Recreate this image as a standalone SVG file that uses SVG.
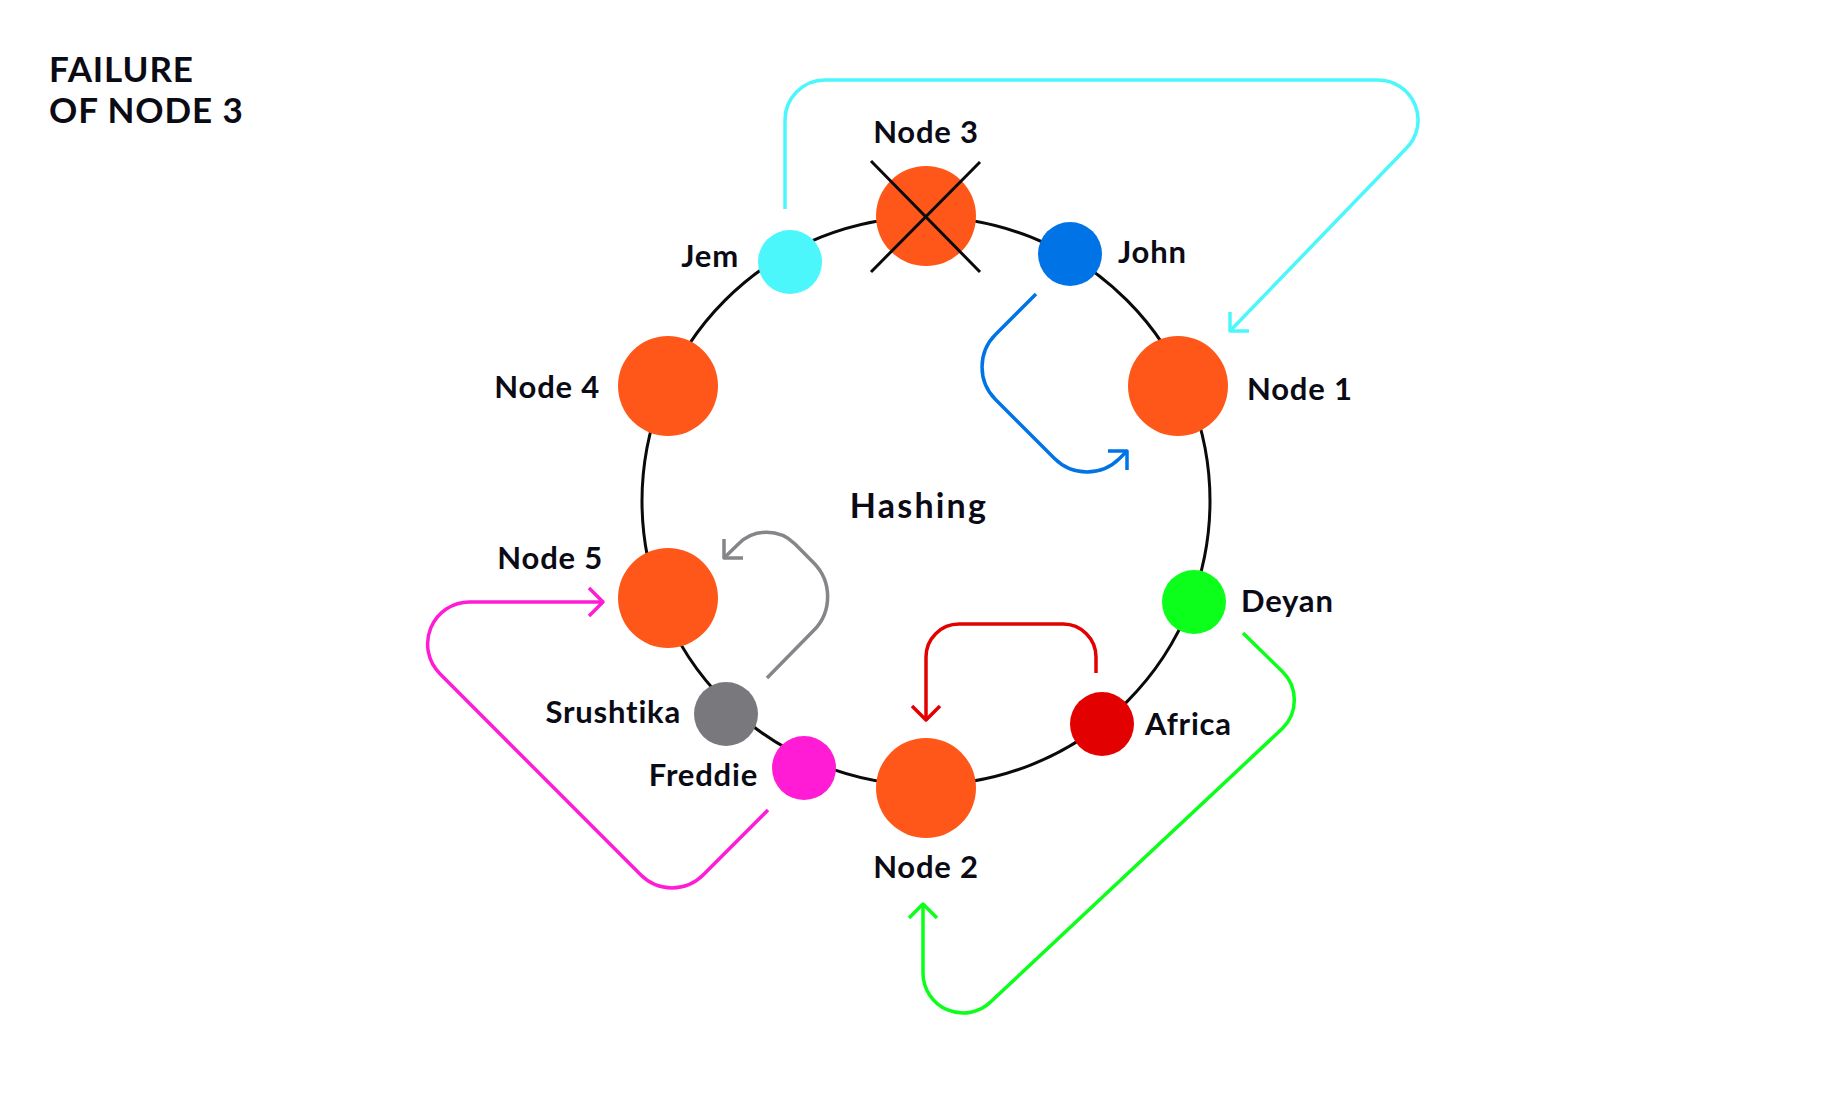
<svg xmlns="http://www.w3.org/2000/svg" width="1840" height="1100" viewBox="0 0 1840 1100">
<style>
.lbl{font-family:Lato,"Liberation Sans",sans-serif;font-weight:700;font-size:31px;letter-spacing:0.8px;fill:#0b0b16}
.ttl{font-family:Lato,"Liberation Sans",sans-serif;font-weight:700;font-size:35px;letter-spacing:0.9px;fill:#0b0b16}
.big{fill:#ff5719}
.conn{fill:none;stroke-width:3.5;stroke-linecap:butt;stroke-linejoin:round}
</style>
<rect width="1840" height="1100" fill="#ffffff"/>
<text class="ttl" x="49" y="82">FAILURE</text>
<text class="ttl" x="49" y="123">OF NODE 3</text>
<circle cx="926" cy="501" r="284" fill="none" stroke="#0a0a0a" stroke-width="3"/>
<text class="lbl" x="919" y="518" text-anchor="middle" style="font-size:34px;letter-spacing:2.2px">Hashing</text>
<g id="connectors">
<path class="conn" stroke="#4cf7fc" d="M785,209 V120 A40,40 0 0 1 825,80 H1378 A40,40 0 0 1 1406.3,148.3 L1230,331"/>
<path class="conn" stroke="#4cf7fc" d="M1230,312 V331 H1249"/>
<path class="conn" stroke="#0073e6" d="M1036,294 L995.5,334.5 A46,46 0 0 0 995.5,399.5 L1054.5,458.5 A46,46 0 0 0 1119.5,458.5 L1127,451"/>
<path class="conn" stroke="#0073e6" d="M1108,451 H1127 V470"/>
<path class="conn" stroke="#e30000" d="M1096,673 V657 A33,33 0 0 0 1063,624 H959 A33,33 0 0 0 926,657 V720"/>
<path class="conn" stroke="#e30000" d="M912,706 L926,720 L940,706"/>
<path class="conn" stroke="#0bff1a" d="M1243,633 L1282.6,671.7 A40,40 0 0 1 1282.6,728.3 L991.3,1001.3 A40,40 0 0 1 923,973 V904"/>
<path class="conn" stroke="#0bff1a" d="M909,918 L923,904 L937,918"/>
<path class="conn" stroke="#ff1cd4" d="M768,810 L703.1,875.1 A44,44 0 0 1 640.9,875.1 L439.9,673.7 A42,42 0 0 1 469.6,602 H603"/>
<path class="conn" stroke="#ff1cd4" d="M589,588 L603,602 L589,616"/>
<path class="conn" stroke="#85858a" d="M767,678 L813.6,630.6 A48,48 0 0 0 813.6,562.8 L795,544 A40,40 0 0 0 738.4,544 L724,558"/>
<path class="conn" stroke="#85858a" d="M724,539 V558 H743"/>
</g>
<g id="node3">
<circle class="big" cx="926" cy="216" r="50"/>
<path d="M871,161 L980,272 M980,162 L871,272" stroke="#0a0a0a" stroke-width="3"/>
<text class="lbl" x="926" y="143" text-anchor="middle">Node 3</text>
</g>
<g id="node1">
<circle class="big" cx="1178" cy="386" r="50"/>
<text class="lbl" x="1247" y="400">Node 1</text>
</g>
<g id="node4">
<circle class="big" cx="668" cy="386" r="50"/>
<text class="lbl" x="600" y="398" text-anchor="end">Node 4</text>
</g>
<g id="node5">
<circle class="big" cx="668" cy="598" r="50"/>
<text class="lbl" x="603" y="569" text-anchor="end">Node 5</text>
</g>
<g id="node2">
<circle class="big" cx="926" cy="788" r="50"/>
<text class="lbl" x="926" y="878" text-anchor="middle">Node 2</text>
</g>
<g id="jem">
<circle cx="790" cy="262" r="32" fill="#4cf7fc"/>
<text class="lbl" x="739" y="267" text-anchor="end">Jem</text>
</g>
<g id="john">
<circle cx="1070" cy="254" r="32" fill="#0073e6"/>
<text class="lbl" x="1118" y="263">John</text>
</g>
<g id="deyan">
<circle cx="1194" cy="602" r="32" fill="#0bff1a"/>
<text class="lbl" x="1241" y="612">Deyan</text>
</g>
<g id="africa">
<circle cx="1102" cy="724" r="32" fill="#e30000"/>
<text class="lbl" x="1145" y="735">Africa</text>
</g>
<g id="srushtika">
<circle cx="726" cy="714" r="32" fill="#79787d"/>
<text class="lbl" x="681" y="723" text-anchor="end">Srushtika</text>
</g>
<g id="freddie">
<circle cx="804" cy="768" r="32" fill="#ff1cd4"/>
<text class="lbl" x="758" y="786" text-anchor="end">Freddie</text>
</g>
</svg>
